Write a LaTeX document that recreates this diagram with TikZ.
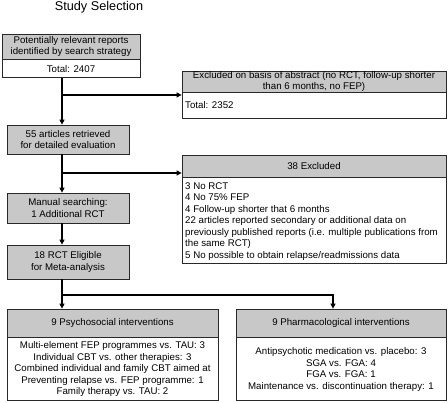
\documentclass[tikz,border=0pt]{standalone}
\usepackage{fontspec}
\setmainfont{Liberation Sans}
\usetikzlibrary{arrows.meta}
\definecolor{hdr}{RGB}{200,200,200}
\definecolor{edge}{RGB}{40,40,40}
\newcommand\bodyfont{\fontsize{9.7}{11.5}\selectfont}
\newcommand\tightfont{\fontsize{9.7}{10.6}\selectfont}
\begin{document}
\begin{tikzpicture}[x=1pt,y=-1pt,
  hdrbox/.style={draw=edge, fill=hdr, line width=0.8pt, inner sep=0pt, align=center, font=\bodyfont},
  bodybox/.style={draw=edge, fill=white, line width=0.8pt, inner sep=0pt, align=center, font=\bodyfont},
  txt/.style={inner sep=0pt, align=left, font=\bodyfont},
  conn/.style={draw=black, line width=1.1pt},
  arr/.style={conn, -{Triangle[length=5pt,width=5pt]}}]
\useasboundingbox (0,0) rectangle (448,403);

\node[font=\fontsize{12.7}{14}\selectfont, inner sep=0pt] (title) at (99,7.5) {Study Selection};

% Box 1
\node[hdrbox, minimum width=138pt, minimum height=25pt] (b1h) at (71,46.5) {Potentially relevant reports\\identified by search strategy};
\node[bodybox, minimum width=138pt, minimum height=18pt, anchor=north] (b1b) at (b1h.south) {Total: 2407};

% Excluded 1
\node[hdrbox, font=\tightfont, minimum width=264pt, minimum height=21pt] (e1h) at (314,81.5) {Excluded on basis of abstract (no RCT, follow-up shorter\\than 6 months, no FEP)};
\node[bodybox, minimum width=264pt, minimum height=26pt, anchor=north] (e1b) at (e1h.south) {};
\node[txt, anchor=west] (e1t) at (185,105) {Total: 2352};

% Box 2,3,4
\node[hdrbox, minimum width=122pt, minimum height=29pt] (b2) at (68,139.5) {55 articles retrieved\\for detailed evaluation};
\node[hdrbox, minimum width=122pt, minimum height=30pt] (b3) at (68,208) {Manual searching:\\1 Additional RCT};
\node[hdrbox, minimum width=122pt, minimum height=34pt] (b4) at (68,262) {18 RCT Eligible\\for Meta-analysis};

% Excluded 2
\node[hdrbox, minimum width=264pt, minimum height=22pt] (e2h) at (314,166) {38 Excluded};
\node[bodybox, minimum width=264pt, minimum height=86pt, anchor=north] (e2b) at (e2h.south) {};
\node[txt, anchor=west] (e2t) at (185,221.5) {3 No RCT\\4 No 75\% FEP\\4 Follow-up shorter that 6 months\\22 articles reported secondary or additional data on\\previously published reports (i.e. multiple publications from\\the same RCT)\\5 No possible to obtain relapse/readmissions data};

% Box 5
\node[hdrbox, minimum width=211pt, minimum height=28pt] (b5h) at (112.5,323) {9 Psychosocial interventions};
\node[bodybox, minimum width=211pt, minimum height=63pt, anchor=north] (b5b) at (b5h.south) {Multi-element FEP programmes vs. TAU: 3\\Individual CBT vs. other therapies: 3\\Combined individual and family CBT aimed at\\Preventing relapse vs. FEP programme: 1\\Family therapy vs. TAU: 2};

% Box 6
\node[hdrbox, minimum width=210pt, minimum height=28pt] (b6h) at (341,323) {9 Pharmacological interventions};
\node[bodybox, minimum width=210pt, minimum height=63pt, anchor=north] (b6b) at (b6h.south) {Antipsychotic medication vs. placebo: 3\\SGA vs. FGA: 4\\FGA vs. FGA: 1\\Maintenance vs. discontinuation therapy: 1};

% Connectors
\coordinate (spine) at (62,0);
\coordinate (drop) at (333,0);
\coordinate (j1) at (62,95);
\coordinate (j2) at (62,173);
\coordinate (j3) at (62,295);
\draw[arr] (b1b.south -| spine) -- (b2.north -| spine);
\draw[arr] (j1) -- (j1 -| e1h.west);
\draw[arr] (b2.south -| spine) -- (b3.north -| spine);
\draw[arr] (j2) -- (j2 -| e2h.west);
\draw[arr] (b3.south -| spine) -- (b4.north -| spine);
\draw[arr] (b4.south -| spine) -- (b5h.north -| spine);
\draw[arr] (j3) -- (j3 -| drop) -- (b6h.north -| drop);
\end{tikzpicture}
\end{document}
